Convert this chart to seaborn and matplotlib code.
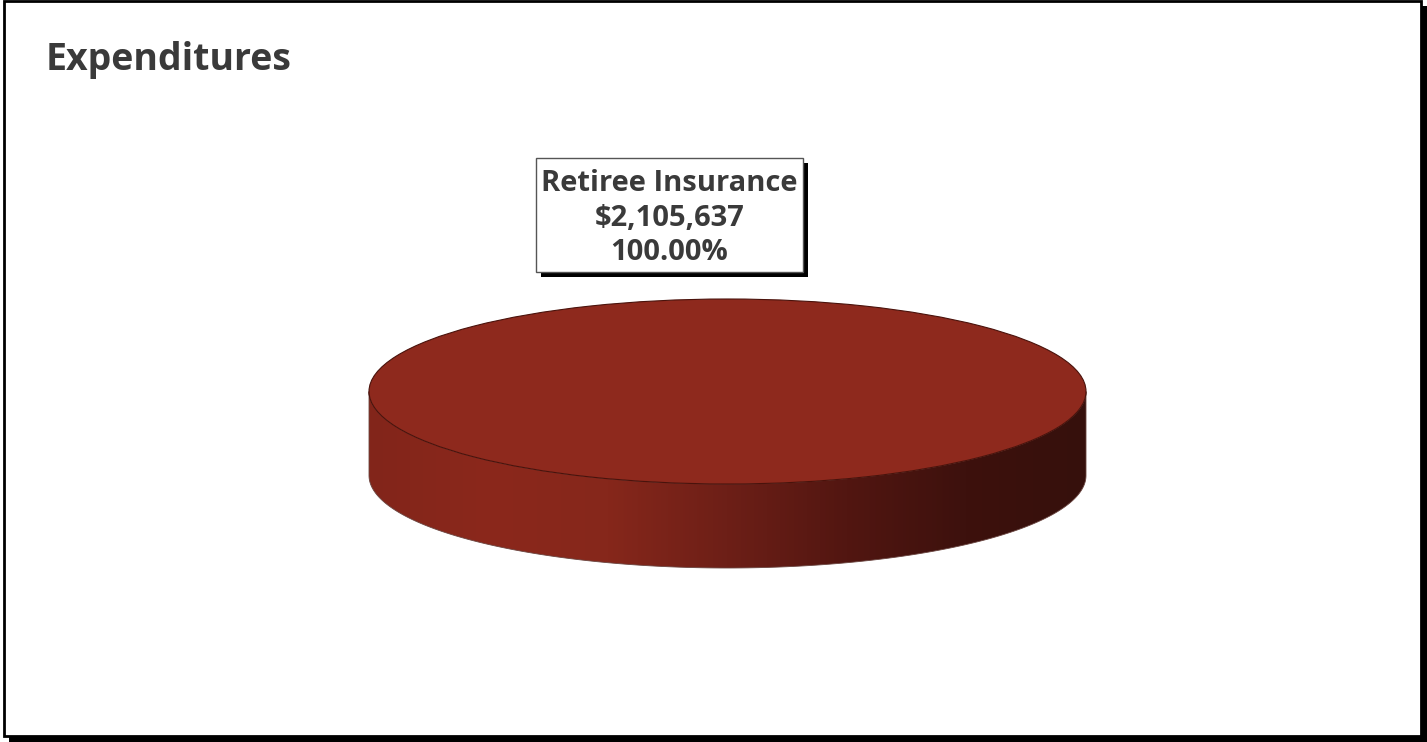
#!/usr/bin/env python3
"""Expenditures: single-slice 3D-style pie (Retiree Insurance = 100%)."""

import numpy as np
import matplotlib.pyplot as plt
import seaborn as sns
from matplotlib.colors import LinearSegmentedColormap
from matplotlib.patches import PathPatch, Rectangle
from matplotlib.path import Path

CATEGORIES = ["Retiree Insurance"]
AMOUNTS = [2105637]
TITLE = "Expenditures"

W, H = 1427, 742
TOP_COLOR = "#8e291d"
TEXT_COLOR = "#3a3a3a"
# side wall shading, left -> right
SIDE_STOPS = ["#82251a", "#8b281c", "#86271b", "#6d1f17", "#521611", "#3d110d", "#36100c"]

# pie geometry in pixels
CX, CY = 727.5, 391.5
RX, RY = 358.5, 92.5
DEPTH = 84


def main() -> None:
    sns.set_theme(style="white")
    plt.rcParams["font.family"] = ["Open Sans", "DejaVu Sans"]

    fig = plt.figure(figsize=(W / 100, H / 100), dpi=100)
    fig.patch.set_facecolor("white")

    # background axes in pixel coordinates: frame, title, label box
    bg = fig.add_axes([0, 0, 1, 1])
    bg.set_xlim(0, W)
    bg.set_ylim(H, 0)
    bg.axis("off")
    bg.add_patch(Rectangle((9, 6), W - 9, H - 6, facecolor="black", edgecolor="none"))
    bg.add_patch(Rectangle((4, 1), 1417, 735, facecolor="white",
                           edgecolor="black", linewidth=2))
    bg.text(46, 60, TITLE, fontsize=27, fontweight="bold", color=TEXT_COLOR,
            ha="left", va="center")

    # pie axes: radius 1 maps to RX px horizontally and RY px vertically
    half_w, half_h = 400, 250
    ax = fig.add_axes([(CX - half_w) / W, (H - CY - half_h) / H,
                       2 * half_w / W, 2 * half_h / H])
    wedges, _ = ax.pie(
        AMOUNTS, colors=[TOP_COLOR], startangle=90, counterclock=False,
        wedgeprops=dict(edgecolor="#4a120b", linewidth=0.8, zorder=3),
    )
    ax.set_aspect("auto")
    ax.axis("off")

    # side wall
    d = DEPTH / RY
    t = np.linspace(np.pi, 2 * np.pi, 200)
    top_arc = np.column_stack([np.cos(t), np.sin(t)])
    bot_arc = np.column_stack([np.cos(t[::-1]), np.sin(t[::-1]) - d])
    verts = np.vstack([top_arc, bot_arc, top_arc[:1]])
    codes = [Path.MOVETO] + [Path.LINETO] * (len(verts) - 2) + [Path.CLOSEPOLY]
    side = PathPatch(Path(verts, codes), facecolor="none",
                     edgecolor="#6a4540", linewidth=0.6, zorder=2)
    ax.add_patch(side)
    cmap = LinearSegmentedColormap.from_list("side", SIDE_STOPS)
    grad = np.linspace(0, 1, 256).reshape(1, -1)
    img = ax.imshow(grad, cmap=cmap, extent=(-1, 1, -1 - d, 0),
                    aspect="auto", zorder=1)
    img.set_clip_path(side)
    ax.set_xlim(-half_w / RX, half_w / RX)
    ax.set_ylim(-half_h / RY, half_h / RY)

    # data label box
    total = sum(AMOUNTS)
    label = f"{CATEGORIES[0]}\n${AMOUNTS[0]:,}\n{AMOUNTS[0] / total * 100:.2f}%"
    bx, by, bw, bh = 536, 158, 267, 114
    bg.add_patch(Rectangle((bx + 5, by + 5), bw, bh, facecolor="black", edgecolor="none"))
    bg.add_patch(Rectangle((bx, by), bw, bh, facecolor="white",
                           edgecolor="#555555", linewidth=1))
    bg.text(bx + bw / 2, by + bh / 2 + 3, label, fontsize=21, fontweight="bold",
            color=TEXT_COLOR, ha="center", va="center", linespacing=1.24)

    fig.savefig("out.png", dpi=100)
    plt.close(fig)


if __name__ == "__main__":
    main()
